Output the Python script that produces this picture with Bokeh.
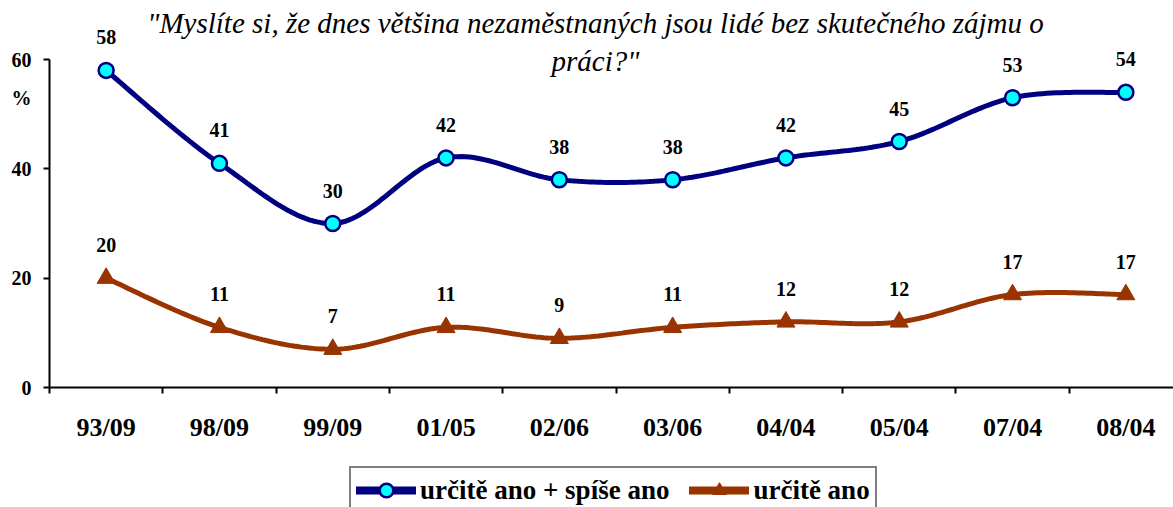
from bokeh.plotting import figure
from bokeh.layouts import column
from bokeh.models import (FixedTicker, Range1d, Legend, LegendItem, Label, ColumnDataSource, LabelSet)
from bokeh.embed import file_html
from bokeh.resources import INLINE
import numpy as np

categories = ["93/09", "98/09", "99/09", "01/05", "02/06", "03/06", "04/04", "05/04", "07/04", "08/04"]
series_a = [58, 41, 30, 42, 38, 38, 42, 45, 53, 54]   # určitě ano + spíše ano
series_b = [20, 11, 7, 11, 9, 11, 12, 12, 17, 17]      # určitě ano
series_names = ["určitě ano + spíše ano", "určitě ano"]
y_ticks = [0, 20, 40, 60]
title_lines = ['"Myslíte si, že dnes většina nezaměstnaných jsou lidé bez skutečného zájmu o', 'práci?"']

FONT = "Liberation Serif"
NAVY = "#000080"
CYAN = "#00FFFF"
BROWN = "#993300"

xs = np.arange(len(categories)) + 0.5

def smooth(x, y, n=30):
    x = np.asarray(x, float); y = np.asarray(y, float)
    px = np.concatenate([[x[0]], x, [x[-1]]])
    py = np.concatenate([[y[0]], y, [y[-1]]])
    ox, oy = [], []
    for i in range(1, len(px) - 2):
        p0 = np.array([px[i - 1], py[i - 1]]); p1 = np.array([px[i], py[i]])
        p2 = np.array([px[i + 1], py[i + 1]]); p3 = np.array([px[i + 2], py[i + 2]])
        c1 = p1 + (p2 - p0) / 6.0
        c2 = p2 - (p3 - p1) / 6.0
        t = np.linspace(0, 1, n)[:, None]
        b = (1 - t) ** 3 * p1 + 3 * (1 - t) ** 2 * t * c1 + 3 * (1 - t) * t ** 2 * c2 + t ** 3 * p2
        ox.extend(b[:, 0]); oy.extend(b[:, 1])
    return ox, oy

W = 1173
H1 = 462                                  # main chart
H2 = 507 - H1                             # legend strip
AX_X, AX_Y, TOP_Y = 49, 387, 59           # pixel positions of y axis, x axis, value 60
px_per_unit = (AX_Y - TOP_Y) / 60.0
y_top = 60 + TOP_Y / px_per_unit          # frame reaches the canvas top
frame_w = W - AX_X
cat_px = 113.3

p = figure(width=W, height=H1, output_backend="svg", toolbar_location=None,
           x_range=Range1d(0, frame_w / cat_px), y_range=Range1d(0, y_top),
           min_border_left=AX_X, min_border_right=0,
           min_border_top=0, min_border_bottom=H1 - AX_Y)
p.outline_line_color = None
p.grid.visible = False
p.background_fill_color = "white"
p.border_fill_color = "white"

# axes
xa = p.xaxis[0]
xa.ticker = FixedTicker(ticks=list(xs), minor_ticks=list(range(0, len(categories) + 1)))
xa.major_label_overrides = {float(v): c for v, c in zip(xs, categories)}
xa.major_tick_out = 0
xa.major_tick_in = 0
xa.minor_tick_out = 6
xa.minor_tick_in = 0
xa.minor_tick_line_color = "black"
xa.minor_tick_line_width = 2
xa.axis_line_width = 2
xa.axis_line_color = "black"
xa.major_label_standoff = 19
xa.major_label_text_font = FONT
xa.major_label_text_font_style = "bold"
xa.major_label_text_font_size = "26px"
xa.major_label_text_color = "black"

pct_pos = 60 - (97 - TOP_Y) / px_per_unit
ya = p.yaxis[0]
ya.bounds = (0, 60)
ya.ticker = FixedTicker(ticks=y_ticks + [pct_pos], minor_ticks=y_ticks)
ya.major_label_overrides = {float(pct_pos): "%"}
ya.major_tick_out = 0
ya.major_tick_in = 0
ya.minor_tick_out = 6
ya.minor_tick_in = 0
ya.minor_tick_line_width = 2
ya.minor_tick_line_color = "black"
ya.axis_line_width = 2
ya.axis_line_color = "black"
ya.major_label_standoff = 12
ya.major_label_text_font = FONT
ya.major_label_text_font_style = "bold"
ya.major_label_text_font_size = "20px"
ya.major_label_text_color = "black"

# series
ax, ay = smooth(xs, series_a)
bx, by = smooth(xs, series_b)
LINE_A = dict(line_color=NAVY, line_width=5)
MARK_A = dict(marker="circle", size=15, fill_color=CYAN, line_color=NAVY, line_width=2.5)
LINE_B = dict(line_color=BROWN, line_width=5)
MARK_B = dict(marker="triangle", size=18, fill_color=BROWN, line_color=BROWN, line_width=1)
p.line(ax, ay, **LINE_A)
p.scatter(xs, series_a, **MARK_A)
p.line(bx, by, **LINE_B)
p.scatter(xs, series_b, **MARK_B)

# data labels
for vals in (series_a, series_b):
    src = ColumnDataSource(dict(x=list(xs), y=vals, t=[str(v) for v in vals]))
    p.add_layout(LabelSet(x="x", y="y", text="t", source=src, x_offset=0, y_offset=33,
                          text_align="center", text_baseline="middle",
                          text_font=FONT, text_font_style="bold", text_font_size="20px",
                          text_color="black"))

# title (two lines)
for t, yy in zip(title_lines, [22, 60]):
    p.add_layout(Label(x=595 - AX_X, y=AX_Y - yy, x_units="screen", y_units="screen", text=t,
                       text_align="center", text_baseline="middle", text_font=FONT,
                       text_font_style="italic", text_font_size="29px", text_color="black"))

# legend strip (its renderers sit outside its visible range; only the legend shows)
q = figure(width=W, height=H2, output_backend="svg", toolbar_location=None,
           x_axis_location=None, y_axis_location=None,
           x_range=Range1d(0, 1), y_range=Range1d(1000, 1001),
           min_border_left=0, min_border_right=0, min_border_top=0, min_border_bottom=0)
q.grid.visible = False
q.outline_line_color = None
q.border_fill_color = "white"
q.background_fill_color = "white"
la = q.line(ax, ay, line_color=NAVY, line_width=8, line_cap="round")
sa = q.scatter(xs, series_a, **MARK_A)
lb = q.line(bx, by, line_color=BROWN, line_width=8, line_cap="round")
sb = q.scatter(xs, series_b, **MARK_B)
legend = Legend(items=[LegendItem(label=series_names[0], renderers=[la, sa]),
                       LegendItem(label=series_names[1], renderers=[lb, sb])],
                orientation="horizontal", location=(300, -7),
                border_line_color="black", border_line_width=2,
                background_fill_color="white", background_fill_alpha=1,
                label_text_font=FONT, label_text_font_style="bold", label_text_font_size="27px",
                label_text_color="black", glyph_width=60, glyph_height=34,
                label_standoff=4, spacing=20, padding=5, margin=0)
q.add_layout(legend, "center")

layout = column(p, q, spacing=0)
open("out.html", "w").write(file_html(layout, INLINE))
